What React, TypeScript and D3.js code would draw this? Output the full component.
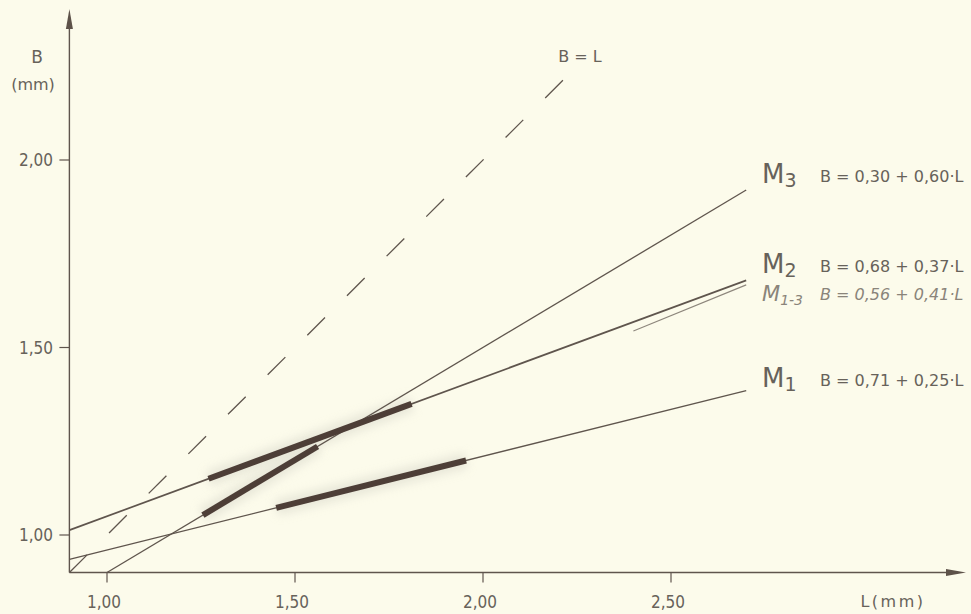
import React from "react";
import * as d3 from "d3";

// ---- data ----
const xTicks = [1.0, 1.5, 2.0, 2.5];
const xTickLabels = ["1,00", "1,50", "2,00", "2,50"];
const yTicks = [1.0, 1.5, 2.0];
const yTickLabels = ["1,00", "1,50", "2,00"];

const modelNames = ["M1", "M2", "M3", "M1-3"];
const modelSubs = ["1", "2", "3", "1-3"];
const intercepts = [0.71, 0.68, 0.3, 0.56];
const slopes = [0.25, 0.37, 0.6, 0.41];
const equations = [
  "B = 0,71 + 0,25·L",
  "B = 0,68 + 0,37·L",
  "B = 0,30 + 0,60·L",
  "B = 0,56 + 0,41·L",
];
const lineStartL = [0.9, 0.9, 1.0, 2.4];
const lineEndL = [2.7, 2.7, 2.7, 2.7];
const thickStartL = [1.45, 1.27, 1.255, NaN];
const thickEndL = [1.955, 1.81, 1.56, NaN];

const identityRange = [0.9, 2.215];

const W = 971;
const H = 614;

export default function App() {
  const x = d3.scaleLinear().domain([1.0, 1.5]).range([107, 295]);
  const y = d3.scaleLinear().domain([1.0, 2.0]).range([535, 160]);
  const x0 = x(0.9);
  const y0 = y(0.9);

  const line = d3
    .line<[number, number]>()
    .x((d) => x(d[0]))
    .y((d) => y(d[1]));

  const condensed = "'DejaVu Sans Condensed', 'DejaVu Sans', sans-serif";
  const wide = "'DejaVu Sans', sans-serif";
  const textCol = "#67625a";
  const lineCol = "#5f554d";

  const labelY: Record<string, number> = { M1: 387, M2: 273, M3: 183, "M1-3": 301 };

  return (
    <svg
      width={W}
      height={H}
      style={{ position: "absolute", left: 0, top: 0 }}
      fontFamily={wide}
    >
      <defs>
        <filter id="blur" x="-20%" y="-50%" width="140%" height="200%">
          <feGaussianBlur stdDeviation="5" />
        </filter>
      </defs>
      <rect x={0} y={0} width={W} height={H} fill="#fcfbeb" />

      {/* halos of thick segments */}
      {modelNames.map((m, i) =>
        isNaN(thickStartL[i]) ? null : (
          <path
            key={"h" + m}
            d={
              line([
                [thickStartL[i], intercepts[i] + slopes[i] * thickStartL[i]],
                [thickEndL[i], intercepts[i] + slopes[i] * thickEndL[i]],
              ]) || ""
            }
            stroke="#dcdbce"
            strokeWidth={16}
            opacity={0.6}
            filter="url(#blur)"
            fill="none"
          />
        )
      )}

      {/* axes */}
      <line x1={x0} y1={y0} x2={958} y2={y0} stroke={lineCol} strokeWidth={1.4} />
      <path d={`M966,${y0} L946,${y0 - 3.5} L946,${y0 + 3.5} Z`} fill="#5d5249" />
      <line x1={x0} y1={y0} x2={x0} y2={20} stroke={lineCol} strokeWidth={1.4} />
      <path d={`M${x0},9 L${x0 - 3.5},29 L${x0 + 3.5},29 Z`} fill="#5d5249" />

      {xTicks.map((t, i) => (
        <g key={"xt" + i}>
          <line x1={x(t)} x2={x(t)} y1={y0} y2={y0 + 10} stroke={lineCol} strokeWidth={1.2} />
          <text x={x(t) - 3} y={608} textAnchor="middle" fontSize={17} fontFamily={condensed} fill={textCol}>
            {xTickLabels[i]}
          </text>
        </g>
      ))}
      {yTicks.map((t, i) => (
        <g key={"yt" + i}>
          <line x1={x0 - 10} x2={x0} y1={y(t)} y2={y(t)} stroke={lineCol} strokeWidth={1.2} />
          <text x={53} y={y(t) + 6} textAnchor="end" fontSize={17} fontFamily={condensed} fill={textCol}>
            {yTickLabels[i]}
          </text>
        </g>
      ))}

      <text x={37} y={63} textAnchor="middle" fontSize={17} fill={textCol}>B</text>
      <text x={33} y={90} textAnchor="middle" fontSize={16} fill={textCol}>(mm)</text>
      <text x={893} y={607} textAnchor="middle" fontSize={16} fill={textCol} letterSpacing={2.5}>
        L(mm)
      </text>

      {/* identity B = L */}
      <path
        d={
          line([
            [identityRange[0], identityRange[0]],
            [identityRange[1], identityRange[1]],
          ]) || ""
        }
        stroke={lineCol}
        strokeWidth={1.3}
        strokeDasharray="25,31"
        fill="none"
      />
      <text x={580} y={62} textAnchor="middle" fontSize={16} fill={textCol}>B = L</text>

      {/* regression lines */}
      {modelNames.map((m, i) => (
        <path
          key={"l" + m}
          d={
            line([
              [lineStartL[i], intercepts[i] + slopes[i] * lineStartL[i]],
              [lineEndL[i], intercepts[i] + slopes[i] * lineEndL[i]],
            ]) || ""
          }
          stroke={m === "M1-3" ? "#8d867c" : lineCol}
          strokeWidth={m === "M1-3" ? 1.1 : m === "M2" ? 1.7 : 1.3}
          fill="none"
        />
      ))}

      {/* thick observed ranges */}
      {modelNames.map((m, i) =>
        isNaN(thickStartL[i]) ? null : (
          <path
            key={"t" + m}
            d={
              line([
                [thickStartL[i], intercepts[i] + slopes[i] * thickStartL[i]],
                [thickEndL[i], intercepts[i] + slopes[i] * thickEndL[i]],
              ]) || ""
            }
            stroke="#4d3e37"
            strokeWidth={6}
            fill="none"
          />
        )
      )}

      {/* labels */}
      {modelNames.map((m, i) => {
        const italic = m === "M1-3";
        const by = labelY[m];
        return (
          <g key={"lab" + m} fill={italic ? "#8a847a" : textCol}>
            <text x={762} y={by} fontSize={italic ? 21 : 26} fontStyle={italic ? "italic" : "normal"}>
              M
              <tspan fontSize={italic ? 14 : 19} dy={italic ? 4 : 4}>
                {modelSubs[i]}
              </tspan>
            </text>
            <text x={820} y={by - 1} fontSize={16} fontStyle={italic ? "italic" : "normal"}>
              {equations[i]}
            </text>
          </g>
        );
      })}
    </svg>
  );
}
